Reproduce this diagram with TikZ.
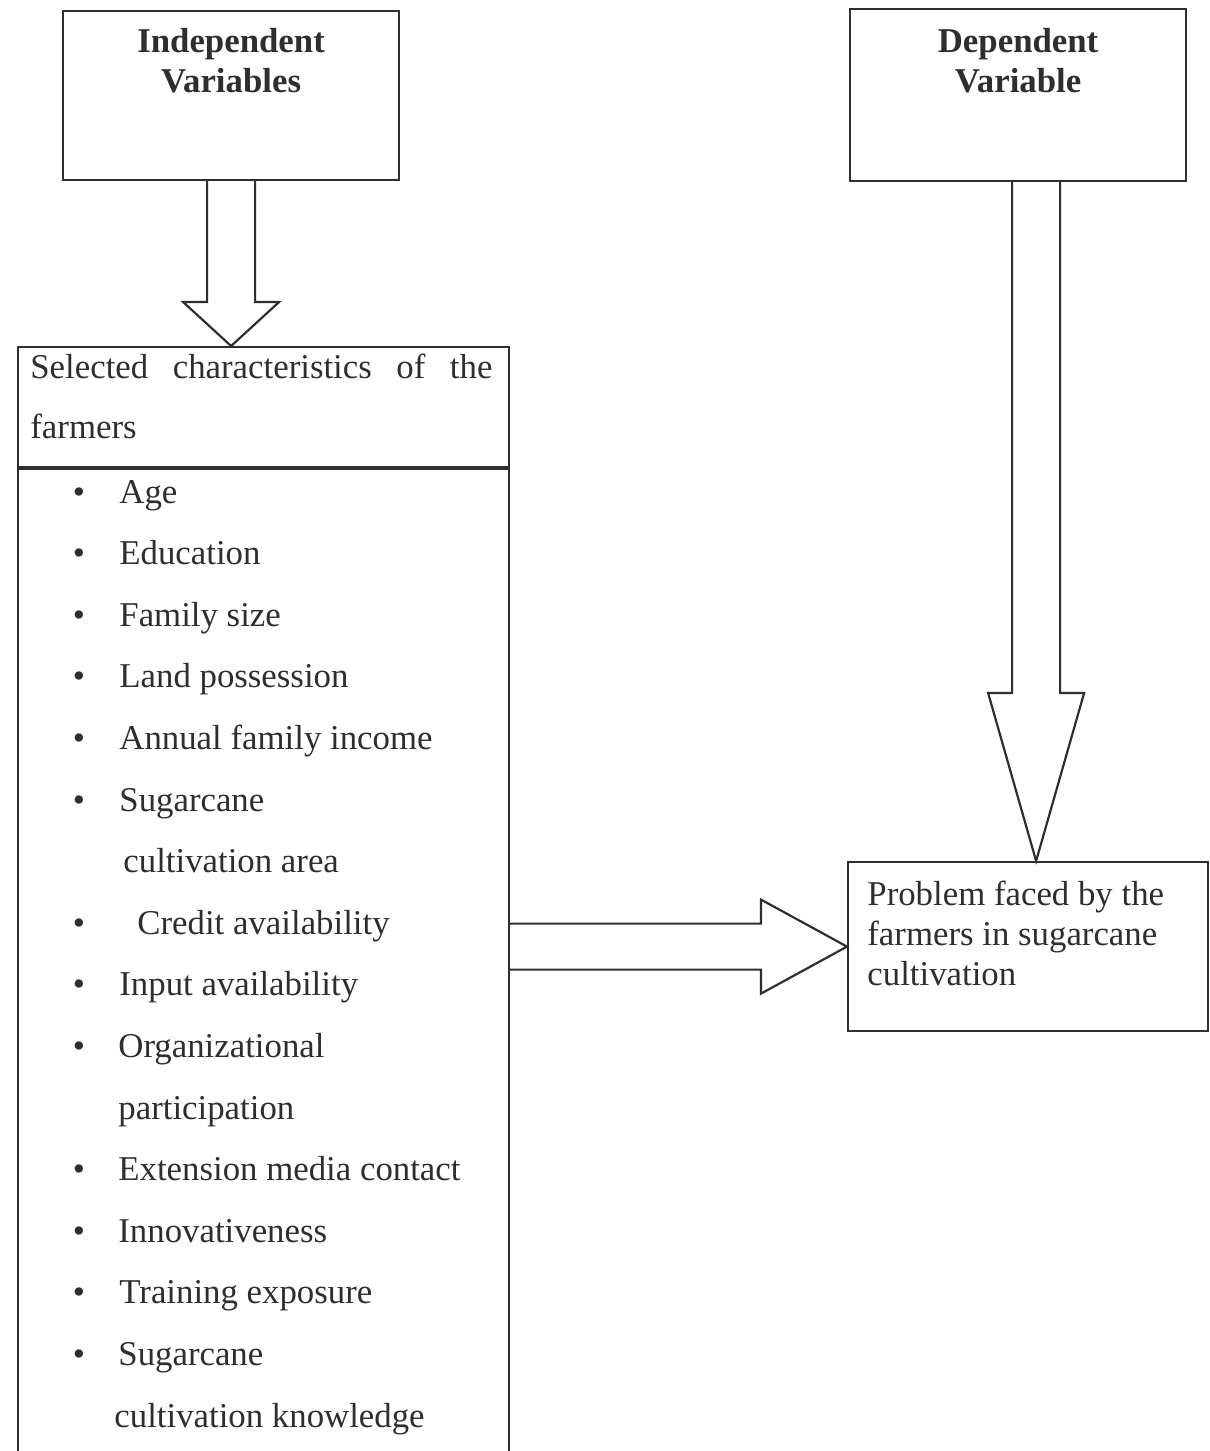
\documentclass[tikz,border=0pt]{standalone}
\usepackage{fontspec}
\setmainfont{Liberation Serif}
\usetikzlibrary{calc,positioning}
\definecolor{ink}{gray}{0.18}

\begin{document}
\begin{tikzpicture}[x=0.5pt, y=-0.5pt,
	every node/.style={text=ink},
	varbox/.style={draw=ink, line width=1.1pt, inner sep=0pt, anchor=north west},
	titletext/.style={font=\fontsize{17.4}{20}\selectfont\bfseries, align=center, text width=160pt, anchor=base, inner sep=0pt},
	bodytext/.style={font=\fontsize{17.4}{18}\selectfont, anchor=base west, inner sep=0pt},
	blockarrow/.style={draw=ink, line width=1.1pt, line join=miter}]
	\useasboundingbox (0,0) rectangle (1210,1451);

	% boxes
	\node[varbox, minimum width=168pt, minimum height=84.5pt] (indep) at (62,10) {};
	\node[varbox, minimum width=168pt, minimum height=86pt] (dep) at (849,8) {};
	\node[varbox, minimum width=245.5pt, minimum height=60pt] (chars) at (17,346) {};
	\node[varbox, minimum width=245.5pt, minimum height=510pt] (list) at (chars.south west) {};
	\node[varbox, minimum width=180pt, minimum height=84.5pt] (problem) at (847,861) {};

	% texts
	\node[titletext] (indeptitle) at ($(indep.north)+(0,43)$) {Independent\\Variables};
	\node[titletext] (deptitle) at ($(dep.north)+(0,45)$) {Dependent\\Variable};
	\node[bodytext, font=\fontsize{17.4}{30}\selectfont, text width=231pt, align=left] (charstitle) at (30,378) {Selected\hfill characteristics\hfill of\hfill the\\farmers};
	\node[bodytext, font=\fontsize{17.4}{20}\selectfont, text width=178pt, align=flush left] (probtext) at (867,905) {Problem faced by the\\farmers in sugarcane\\cultivation};

	\foreach \i/\x/\txt in {0/119/Age, 1/119/Education, 2/119/Family size, 3/119/Land possession, 4/119/Annual family income, 5/119/Sugarcane, 6/123/cultivation area, 7/137/Credit availability, 8/119/Input availability, 9/118/Organizational, 10/118/participation, 11/118/Extension media contact, 12/118/Innovativeness, 13/119/Training exposure, 14/118/Sugarcane, 15/114/cultivation knowledge}
		\node[bodytext] (item\i) at (\x,{503+61.6*\i}) {\txt};
	\foreach \i in {0,1,2,3,4,5,7,8,9,11,12,13,14}
		\node[bodytext, anchor=base] (dot\i) at (79,{503+61.6*\i}) {\textbullet};

	% block arrows
	\coordinate (itip) at (indep.south |- chars.north);
	\draw[blockarrow] ($(indep.south)+(-24,0)$) -- ($(itip)+(-24,-44)$) -- ($(itip)+(-48,-44)$) -- (itip) -- ($(itip)+(48,-44)$) -- ($(itip)+(24,-44)$) -- ($(indep.south)+(24,0)$);

	\coordinate (dax) at ($(dep.south)+(18,0)$);
	\coordinate (dtip) at (dax |- problem.north);
	\draw[blockarrow] ($(dax)+(-24,0)$) -- ($(dtip)+(-24,-168)$) -- ($(dtip)+(-48,-168)$) -- (dtip) -- ($(dtip)+(48,-168)$) -- ($(dtip)+(24,-168)$) -- ($(dax)+(24,0)$);

	\coordinate (htail) at (list.east |- problem.west);
	\draw[blockarrow] ($(htail)+(0,-23)$) -- ($(problem.west)+(-86,-23)$) -- ($(problem.west)+(-86,-47)$) -- (problem.west) -- ($(problem.west)+(-86,47)$) -- ($(problem.west)+(-86,23)$) -- ($(htail)+(0,23)$);
\end{tikzpicture}
\end{document}
